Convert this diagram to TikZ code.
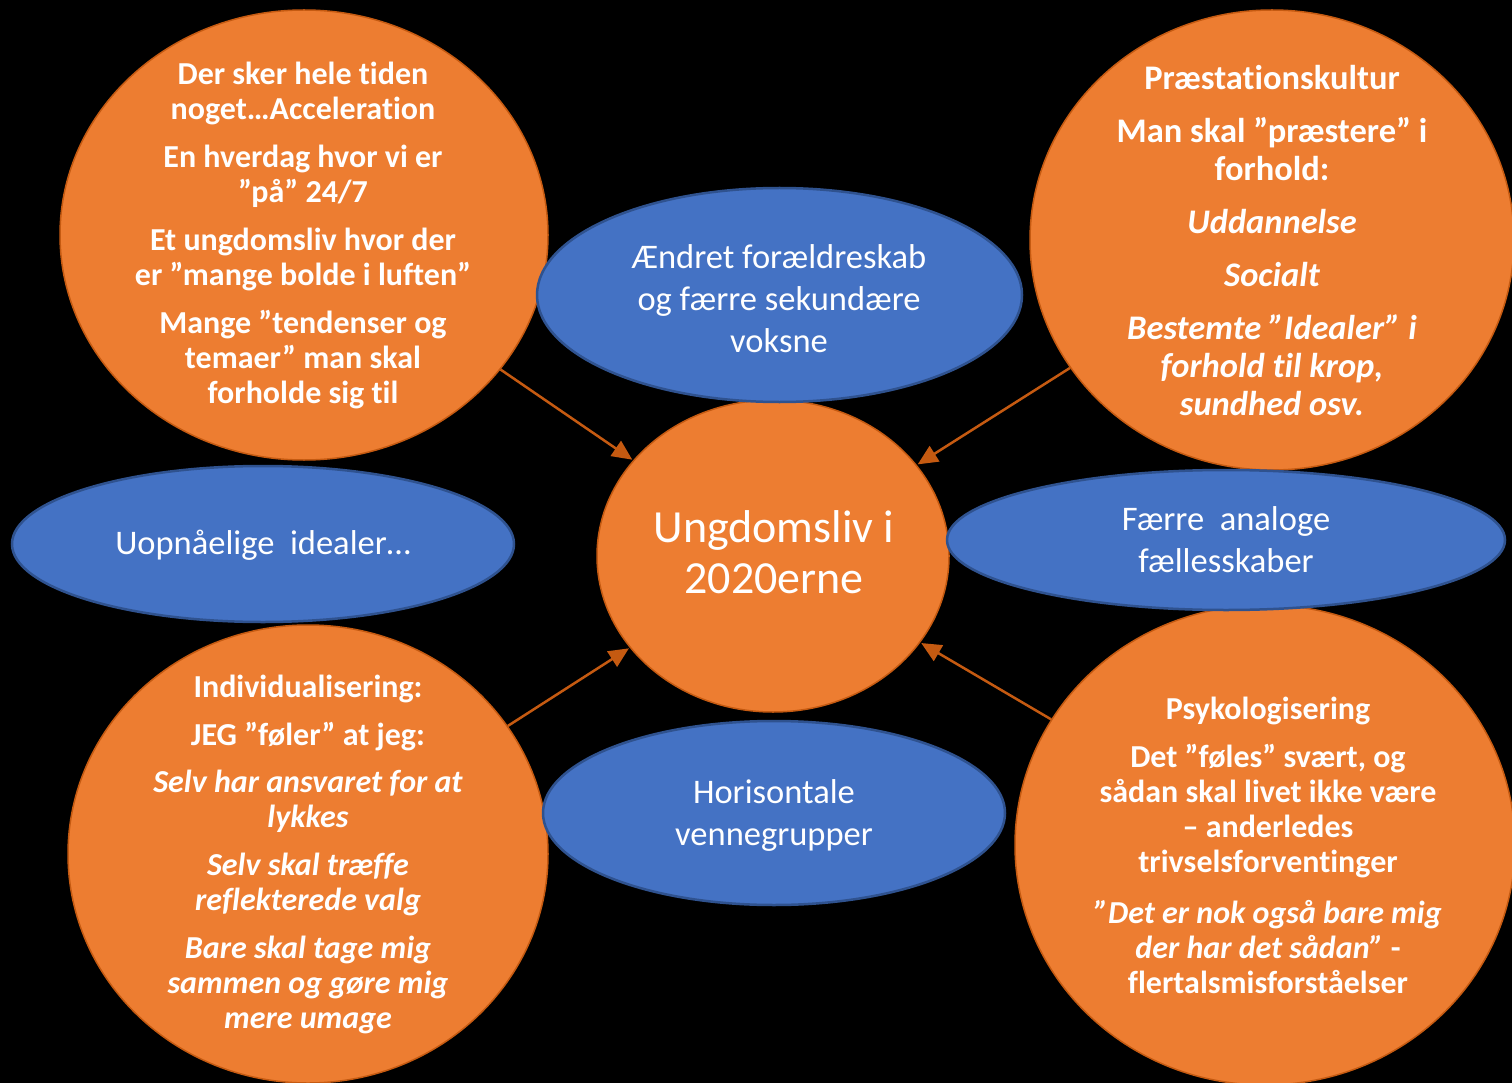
\documentclass[tikz,border=0pt]{standalone}
\usepackage{fontspec}
\setmainfont{Carlito}[Ligatures=NoCommon]
\usetikzlibrary{arrows.meta,shapes.geometric}
\definecolor{ofill}{HTML}{ED7D31}
\definecolor{oline}{HTML}{C55A11}
\definecolor{bfill}{HTML}{4472C4}
\definecolor{bline}{HTML}{2F528F}
\definecolor{arr}{HTML}{C55A11}
\tikzset{
  obub/.style={ellipse, fill=ofill, draw=oline, line width=1.5pt, inner sep=0pt},
  bbub/.style={ellipse, fill=bfill, draw=bline, line width=2.5pt, inner sep=0pt},
  otext/.style={text=white, align=center, inner sep=0pt, font=\bfseries\fontsize{32}{35}\selectfont},
  btext/.style={text=white, align=center, inner sep=0pt, font=\fontsize{34.5}{42}\selectfont},
  conn/.style={draw=arr, line width=2.5pt, -{Triangle[length=20pt,width=18pt]}, shorten >=1pt}
}
\begin{document}
\begin{tikzpicture}[x=1pt,y=-1pt]
\fill[black] (0,0) rectangle (1512,1083);
\useasboundingbox (0,0) rectangle (1512,1083);
% orange bubbles
\node[obub, minimum width=488pt, minimum height=450pt] (tl) at (304,235) {};
\node[obub, minimum width=484pt, minimum height=460pt] (tr) at (1272,240) {};
\node[obub, minimum width=352pt, minimum height=312pt] (c) at (773,556) {};
\node[obub, minimum width=480pt, minimum height=458pt] (bl) at (308,854) {};
\node[obub, minimum width=500pt, minimum height=480pt] (br) at (1265,845) {};
% blue bubbles
\node[bbub, minimum width=485pt, minimum height=214pt] (bt) at (779.5,295) {};
\node[bbub, minimum width=502pt, minimum height=156pt] (bl2) at (263,544) {};
\node[bbub, minimum width=558pt, minimum height=140pt] (br2) at (1226,540) {};
\node[bbub, minimum width=462pt, minimum height=184pt] (bb) at (774,813) {};
% texts
\node[otext] (tlt) at (303,235) {Der sker hele tiden\\noget…Acceleration\\[13pt]En hverdag hvor vi er\\”på” 24/7\\[13pt]Et ungdomsliv hvor der\\er ”mange bolde i luften”\\[13pt]Mange ”tendenser og\\temaer” man skal\\forholde sig til};
\node[otext, font=\bfseries\fontsize{34.5}{38}\selectfont] (trt) at (1272,241) {Præstationskultur\\[15pt]Man skal ”præstere” i\\forhold:\\[15pt]\itshape Uddannelse\\[15pt]\itshape Socialt\\[15pt]\itshape Bestemte ”Idealer” i\\\itshape forhold til krop,\\\itshape sundhed osv.};
\node[otext] (blt) at (308,854) {Individualisering:\\[13pt]JEG ”føler” at jeg:\\[12pt]\itshape Selv har ansvaret for at\\\itshape lykkes\\[13pt]\itshape Selv skal træffe\\\itshape reflekterede valg\\[13pt]\itshape Bare skal tage mig\\\itshape sammen og gøre mig\\\itshape mere umage};
\node[otext] (brt) at (1268,845) {Psykologisering\\[13pt]Det ”føles” svært, og\\sådan skal livet ikke være\\– anderledes\\trivselsforventinger\\[16pt]\itshape ”Det er nok også bare mig\\\itshape der har det sådan” \upshape -\\flertalsmisforståelser};
\node[text=white, align=center, inner sep=0pt, font=\fontsize{46}{51}\selectfont] (ct) at (774,552) {Ungdomsliv i\\2020erne};
\node[btext] (btt) at (779,299) {Ændret forældreskab\\og færre sekundære\\voksne};
\node[btext] (bl2t) at (263,545) {Uopnåelige\ \ idealer…};
\node[btext] (br2t) at (1226,540) {Færre\ \ analoge\\fællesskaber};
\node[btext] (bbt) at (774,815) {Horisontale\\vennegrupper};
% connectors
\draw[conn] (tl) -- (c);
\draw[conn] (tr) -- (c);
\draw[conn] (bl) -- (c);
\draw[conn] (br) -- (c);
\end{tikzpicture}
\end{document}
